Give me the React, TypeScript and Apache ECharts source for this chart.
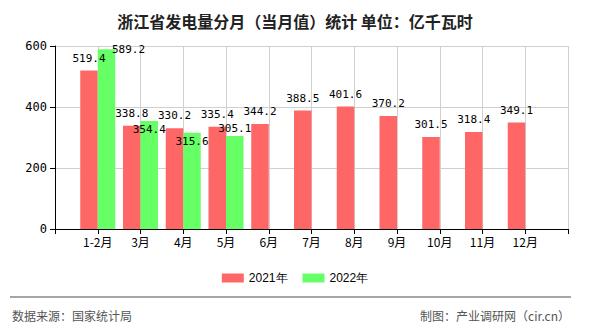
import React, { useEffect, useRef } from "react";
import * as echarts from "echarts";

const title = "浙江省发电量分月（当月值）统计 单位：亿千瓦时";
const months = ["1-2月", "3月", "4月", "5月", "6月", "7月", "8月", "9月", "10月", "11月", "12月"];
const values2021 = [519.4, 338.8, 330.2, 335.4, 344.2, 388.5, 401.6, 370.2, 301.5, 318.4, 349.1];
const values2022 = [589.2, 354.4, 315.6, 305.1];
const seriesNames = ["2021年", "2022年"];
const yTicks = { min: 0, max: 600, interval: 200 };
const sourceText = "数据来源：国家统计局";
const makerText = "制图：产业调研网（cir.cn）";

// label offsets (style) for the 2022 series, relative to "top"
const labelOffsets2022: number[][] = [[22, 12.5], [0, 21.5], [0, 21], [0, 5]];

const labelFont = { fontFamily: "DejaVu Sans Mono", fontSize: 11, color: "#000" };

export default function App() {
  const ref = useRef<HTMLDivElement>(null);
  useEffect(() => {
    if (!ref.current) return;
    document.body.style.margin = "0";
    const chart = echarts.init(ref.current, null, { renderer: "svg" });
    const cats = ["", ...months, ""];
    const pad = (arr: number[]) => {
      const out: any[] = ["-"];
      for (let i = 0; i < months.length; i++) out.push(i < arr.length ? arr[i] : "-");
      out.push("-");
      return out;
    };
    const d2021 = pad(values2021);
    const d2022 = pad(values2022).map((v, i) => {
      if (v === "-") return v;
      const off = labelOffsets2022[i - 1] || [0, 0];
      return { value: v, label: { offset: off } };
    });
    chart.setOption({
      animation: false,
      title: {
        text: title,
        left: "center",
        top: 8,
        textStyle: { fontSize: 16, fontWeight: "bold", color: "#222", fontFamily: "Noto Sans CJK SC" },
      },
      legend: {
        data: seriesNames,
        bottom: 41,
        left: "center",
        itemWidth: 22,
        itemHeight: 9,
        itemGap: 15,
        icon: "rect",
        textStyle: { fontSize: 12, color: "#000", fontFamily: "Liberation Sans" },
      },
      grid: { left: 55, right: 22, top: 46, bottom: 101 },
      xAxis: {
        type: "category",
        data: cats,
        boundaryGap: false,
        axisLine: { lineStyle: { color: "#000" } },
        axisTick: { show: true, interval: 0, length: 5, lineStyle: { color: "#000" } },
        axisLabel: { interval: 0, color: "#000", fontSize: 12, fontFamily: "Noto Sans CJK SC", margin: 6 },
        splitLine: { show: true, interval: 0, lineStyle: { color: "#d0d0d0" } },
      },
      yAxis: {
        type: "value",
        min: yTicks.min,
        max: yTicks.max,
        interval: yTicks.interval,
        axisLine: { show: true, lineStyle: { color: "#000" } },
        axisTick: { show: true, length: 5, lineStyle: { color: "#000" } },
        axisLabel: { color: "#000", fontSize: 12, fontFamily: "DejaVu Sans Mono", margin: 8 },
        splitLine: { show: true, lineStyle: { color: "#d0d0d0" } },
      },
      series: [
        {
          name: seriesNames[0],
          type: "bar",
          data: d2021,
          barWidth: 17.5,
          barGap: "0%",
          itemStyle: { color: "#ff6666" },
          label: { show: true, position: "top", distance: 7, ...labelFont },
        },
        {
          name: seriesNames[1],
          type: "bar",
          data: d2022,
          barWidth: 17.5,
          barGap: "0%",
          itemStyle: { color: "#66ff66" },
          label: { show: true, position: "top", distance: 7, ...labelFont },
        },
      ],
      graphic: [
        {
          type: "line",
          shape: { x1: 10, y1: 297, x2: 571, y2: 297 },
          style: { stroke: "#888", lineWidth: 1.5 },
        },
        {
          type: "text",
          left: 12,
          top: 309,
          style: { text: sourceText, fill: "#555", fontSize: 12, fontFamily: "Noto Sans CJK SC" },
        },
        {
          type: "text",
          right: 20,
          top: 309,
          style: { text: makerText, fill: "#555", fontSize: 12, fontFamily: "Noto Sans CJK SC" },
        },
      ],
    });
    return () => chart.dispose();
  }, []);
  return <div ref={ref} style={{ width: 590, height: 330 }} />;
}
